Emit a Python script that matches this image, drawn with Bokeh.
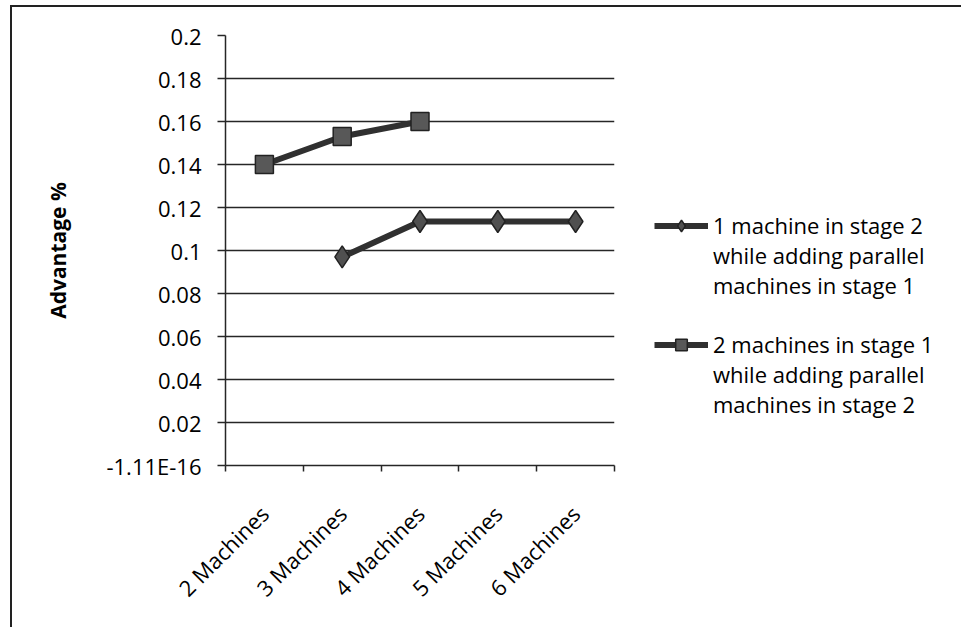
import math
from bokeh.plotting import figure
from bokeh.models import FixedTicker, Legend, LegendItem, ColumnDataSource, Range1d
from bokeh.embed import file_html
from bokeh.resources import INLINE

# ---- data ----
categories = ["2 Machines", "3 Machines", "4 Machines", "5 Machines", "6 Machines"]
series1_name = ["1 machine in stage 2", "while adding parallel", "machines in stage 1"]
series1_values = [float("nan"), 0.097, 0.1135, 0.1135, 0.1135]
series2_name = ["2 machines in stage 1", "while adding parallel", "machines in stage 2"]
series2_values = [0.140, 0.153, 0.160, float("nan"), float("nan")]
y_ticks = [0.0, 0.02, 0.04, 0.06, 0.08, 0.1, 0.12, 0.14, 0.16, 0.18, 0.2]
y_tick_labels = ["-1.11E-16", "0.02", "0.04", "0.06", "0.08", "0.1", "0.12", "0.14", "0.16", "0.18", "0.2"]
y_title = "Advantage %"

FONT = "Open Sans"
DARK = "#262626"

xpos = [i + 1 for i in range(len(categories))]
src = ColumnDataSource(dict(x=xpos, s1=series1_values, s2=series2_values))

p = figure(frame_width=389, frame_height=430, output_backend="svg", toolbar_location=None,
           x_range=Range1d(0.5, len(categories) + 0.5), y_range=Range1d(y_ticks[0], y_ticks[-1]),
           min_border_left=213, min_border_right=349, min_border_top=28, min_border_bottom=162,
           margin=(5, 0, 0, 10),
           styles={"border-top": "2px solid #222", "border-left": "2px solid #222"})
p.outline_line_color = None
p.background_fill_color = "white"
p.border_fill_color = "white"

# lines + markers
l1 = p.line("x", "s1", source=src, line_color="#303030", line_width=6)
m1 = p.scatter("x", "s1", source=src, marker="diamond", size=22, fill_color="#505050",
               line_color="#222222", line_width=1.5)
l2 = p.line("x", "s2", source=src, line_color="#303030", line_width=6)
m2 = p.scatter("x", "s2", source=src, marker="square", size=18, fill_color="#585858",
               line_color="#222222", line_width=1.5)
# empty, invisible renderer used for legend lines without a glyph
blank = p.line(x=[], y=[], line_alpha=0)

# y axis
p.yaxis.ticker = FixedTicker(ticks=y_ticks)
p.yaxis.major_label_overrides = dict(zip(y_ticks, y_tick_labels))
p.yaxis.major_tick_out = 8
p.yaxis.major_tick_in = 0
p.yaxis.minor_tick_line_color = None
p.yaxis.major_label_standoff = 16
p.yaxis.axis_line_color = DARK
p.yaxis.axis_line_width = 1.5
p.yaxis.major_tick_line_color = DARK
p.yaxis.major_tick_line_width = 1.5
p.yaxis.major_label_text_font = FONT
p.yaxis.major_label_text_font_size = "22px"
p.yaxis.major_label_text_color = "black"
p.yaxis.axis_label = y_title
p.yaxis.axis_label_text_font = FONT
p.yaxis.axis_label_text_font_size = "21px"
p.yaxis.axis_label_text_font_style = "bold"
p.yaxis.axis_label_text_color = "black"
p.yaxis.axis_label_standoff = 31

# x axis
p.xaxis.ticker = FixedTicker(ticks=xpos, minor_ticks=[x - 0.5 for x in xpos] + [xpos[-1] + 0.5])
p.xaxis.major_label_overrides = dict(zip(xpos, categories))
p.xaxis.major_tick_line_color = None
p.xaxis.major_tick_out = 0
p.xaxis.major_tick_in = 0
p.xaxis.minor_tick_out = 6
p.xaxis.minor_tick_in = 0
p.xaxis.minor_tick_line_color = DARK
p.xaxis.minor_tick_line_width = 1.5
p.xaxis.axis_line_color = DARK
p.xaxis.axis_line_width = 1.5
p.xaxis.major_label_orientation = math.pi / 4
p.xaxis.major_label_standoff = 38
p.xaxis.major_label_text_font = FONT
p.xaxis.major_label_text_font_size = "22px"
p.xaxis.major_label_text_color = "black"

# grid
p.xgrid.visible = False
p.ygrid.ticker = FixedTicker(ticks=y_ticks)
p.ygrid.grid_line_color = DARK
p.ygrid.grid_line_width = 1.5

items = [LegendItem(label=series1_name[0], renderers=[l1, m1])]
items += [LegendItem(label=t, renderers=[blank]) for t in series1_name[1:]]
items += [LegendItem(label=" ", renderers=[blank])]
items += [LegendItem(label=series2_name[0], renderers=[l2, m2])]
items += [LegendItem(label=t, renderers=[blank]) for t in series2_name[1:]]

legend = Legend(items=items, location=(40, 46), orientation="vertical")
legend.glyph_width = 54
legend.glyph_height = 29
legend.label_height = 29
legend.label_standoff = 5
legend.padding = 0
legend.margin = 0
legend.spacing = 0
legend.border_line_color = None
legend.background_fill_alpha = 0
legend.label_text_font = FONT
legend.label_text_font_size = "22px"
legend.label_text_color = "black"
p.add_layout(legend, "right")

open("out.html", "w").write(file_html(p, INLINE))
